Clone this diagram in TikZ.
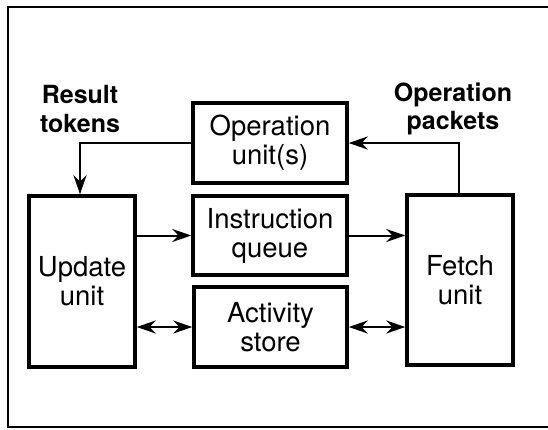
\documentclass[tikz,border=0pt]{standalone}
\usepackage{fontspec}
\setmainfont{TeX Gyre Heros}
\usetikzlibrary{arrows.meta}
\tikzset{
  unitbox/.style={draw, line width=3.5pt, align=center, inner sep=0pt,
    font=\fontsize{27.5}{29}\selectfont},
  lbl/.style={align=center, font=\bfseries\fontsize{25}{28.5}\selectfont},
  conn/.style={line width=2pt, -{Stealth[length=19pt,width=13pt]}},
  biconn/.style={line width=2pt, {Stealth[length=19pt,width=13pt]}-{Stealth[length=19pt,width=13pt]}},
  frameline/.style={line width=2pt}
}
\begin{document}
\begin{tikzpicture}[x=1pt,y=-1pt]
\useasboundingbox (0,0) rectangle (548,429);
\draw[frameline] (548,7) -- (8,7) -- (8,427) -- (548,427);
\node[unitbox, minimum width=154pt, minimum height=80pt] (op) at (270,143) {Operation\\unit(s)};
\node[unitbox, minimum width=154pt, minimum height=79pt] (iq) at (270,235.5) {Instruction\\queue};
\node[unitbox, minimum width=153pt, minimum height=80pt] (as) at (270.5,327) {Activity\\store};
\node[unitbox, minimum width=106pt, minimum height=171pt] (upd) at (82,281.5) {Update\\unit};
\node[unitbox, minimum width=106pt, minimum height=170pt] (fet) at (460,280) {Fetch\\unit};
\node[lbl] (rt) at (80,109) {Result\\tokens};
\node[lbl] (opk) at (453,109) {Operation\\packets};
\draw[conn] (op.west) -| ([xshift=-2pt]upd.north);
\draw[conn] ([xshift=-1pt]fet.north) |- (op.east);
\draw[conn] (upd.east |- iq.west) -- (iq.west);
\draw[conn] (iq.east) -- (fet.west |- iq.east);
\draw[biconn] (upd.east |- as.west) -- (as.west);
\draw[biconn] (as.east) -- (fet.west |- as.east);
\end{tikzpicture}
\end{document}
